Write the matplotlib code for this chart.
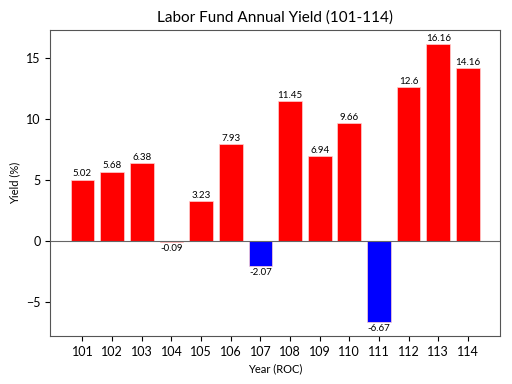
import matplotlib
matplotlib.use("Agg")
import matplotlib.pyplot as plt

plt.rcParams["font.family"] = ["Lato", "DejaVu Sans"]

years = ["101", "102", "103", "104", "105", "106", "107",
         "108", "109", "110", "111", "112", "113", "114"]
yields = [5.02, 5.68, 6.38, -0.09, 3.23, 7.93, -2.07,
          11.45, 6.94, 9.66, -6.67, 12.6, 16.16, 14.16]
labels = ["5.02", "5.68", "6.38", "-0.09", "3.23", "7.93", "-2.07",
          "11.45", "6.94", "9.66", "-6.67", "12.6", "16.16", "14.16"]

colors = ["red" if v >= 0 else "blue" for v in yields]
colors[3] = "red"

fig = plt.figure(figsize=(5.12, 3.84), dpi=100)
ax = fig.add_axes([0.098, 0.125, 0.879, 0.797])

bars = ax.bar(years, yields, color=colors, width=0.8, edgecolor="#ffd0d0", linewidth=0.5)
ax.axhline(0, color="#666666", lw=0.8)

for b, v, t in zip(bars, yields, labels):
    x = b.get_x() + b.get_width() / 2
    if v >= 0:
        ax.text(x, v + 0.1, t, ha="center", va="bottom", fontsize=7)
    else:
        ax.text(x, v - 0.15, t, ha="center", va="top", fontsize=7)

ax.set_title("Labor Fund Annual Yield (101-114)", fontsize=11)
ax.set_xlabel("Year (ROC)", fontsize=8)
ax.set_ylabel("Yield (%)", fontsize=8)
ax.tick_params(labelsize=9)
for s in ax.spines.values():
    s.set_color("#555555")

fig.savefig("out.png", dpi=100)
